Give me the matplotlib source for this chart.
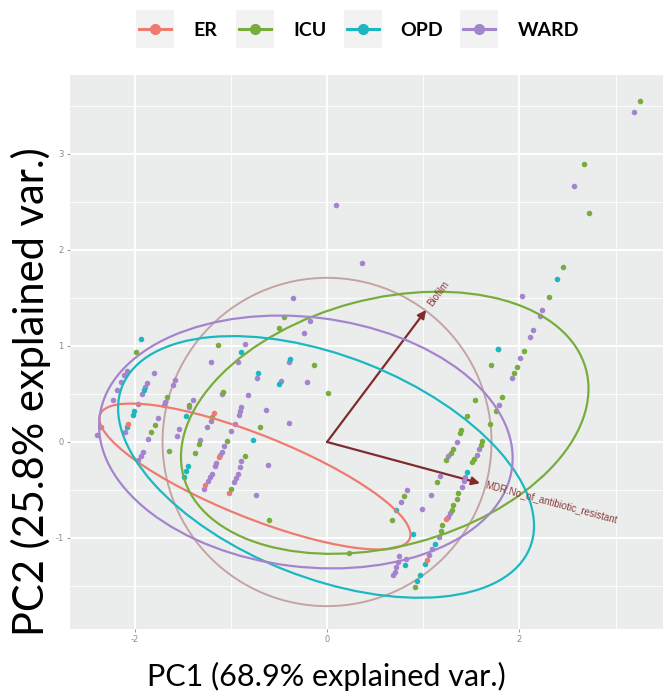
import numpy as np
import matplotlib.pyplot as plt
from matplotlib.patches import Ellipse, Rectangle
from matplotlib.lines import Line2D

# groups and colours
groups = ["ER", "ICU", "OPD", "WARD"]
colors = {"ER": "#EE7B70", "ICU": "#78AD3C", "OPD": "#1BB8C1", "WARD": "#A584CE"}

# PC scores
er_x = [-2.07, -1.18, -1.12, -1.27, -1.02, 1.24, 1.04]
er_y = [0.19, 0.30, -0.16, -0.45, -0.53, -0.80, -1.23]

icu_x = [-1.99, -1.83, -1.79, -1.66, -1.43, -1.64, -1.33, -1.37, -1.13, -1.08, -1.20, -1.04,
         -0.85, -1.00, -0.70, -0.60, -0.14, 0.01, -0.45, -0.50, 0.23,
         2.45, 2.31, 2.05, 1.97, 1.94, 1.70, 1.54, 1.82, 1.76, 1.46, 1.69, 1.39, 1.38, 1.31,
         1.29, 1.24, 1.61, 1.60, 1.53, 1.51, 1.36, 1.35, 1.31, 1.30, 1.20, 1.14, 0.80, 0.68,
         1.18, 0.91, 3.25, 2.67, 2.72]
icu_y = [0.94, 0.10, 0.18, 0.47, 0.39, -0.09, -0.02, -0.11, 1.01, 0.52, 0.26, 0.01,
         -0.15, -0.49, 0.16, -0.81, 0.80, 0.51, 1.30, 1.19, -1.16,
         1.82, 1.51, 0.95, 0.78, 0.72, 0.80, 0.44, 0.47, 0.32, 0.27, 0.19, 0.125, 0.09, -0.07,
         -0.11, -0.19, 0.01, -0.03, -0.18, -0.21, -0.53, -0.59, -0.66, -0.71, -0.87, -0.42, -0.56, -0.81,
         -0.93, -1.51, 3.55, 2.90, 2.39]

opd_x = [-1.93, -1.90, -2.01, -2.02, -2.08, -1.47, -1.45, -1.47, -1.49, -0.89, -0.77, -0.72,
         -0.38, -0.50, 2.39, 1.78, 1.46, 0.72, 0.89, 0.81, 1.12, 1.02, 0.97, 0.94]
opd_y = [1.07, 0.54, 0.32, 0.28, 0.16, 0.27, -0.25, -0.30, -0.36, 0.94, 0.02, 0.72,
         0.86, 0.60, 1.70, 0.97, -0.31, -0.71, -0.96, -1.28, -1.06, -1.27, -1.39, -1.45]

ward_x = [-2.08, -2.11, -2.14, -2.18, -2.22, -2.35, -2.39, -1.80, -1.87, -1.89, -1.92, -1.96,
          -2.10, -1.76, -1.86, -1.91, -1.93, -1.96, -1.58, -1.60, -1.68, -1.69, -1.39, -1.43,
          -1.54, -1.56, -1.32, -0.85, -0.93, -1.21, -1.09, -0.82, -1.21, -1.25, -0.89, -0.90,
          -0.92, -0.96, -1.00, -1.07, -1.09, -1.11, -1.15, -1.16, -1.20, -1.22, -1.24, -1.28,
          -0.89, -0.90, -0.93, -0.95, -0.97, -0.63, -0.61, -0.74, -0.73, -0.40, -0.48, -0.21,
          -0.40, -0.24, -0.18, -0.35, 0.09, 0.36,
          3.19, 2.57, 2.03, 2.24, 2.21, 2.14, 2.11, 1.78, 2.01, 1.92, 1.79, 1.35, 1.26, 1.58,
          1.56, 1.43, 1.42, 1.40, 1.28, 1.26, 1.17, 0.83, 0.77, 1.08, 0.99, 0.82, 0.75, 0.74,
          0.72, 0.71, 0.69, 1.16, 1.09, 1.06]
ward_y = [0.74, 0.70, 0.63, 0.54, 0.44, 0.16, 0.07, 0.72, 0.61, 0.57, 0.50, 0.40,
          0.10, 0.25, 0.03, -0.10, -0.15, -0.19, 0.65, 0.59, 0.42, 0.39, 0.44, 0.36,
          0.13, 0.06, 0.02, 1.02, 0.83, 0.83, 0.50, 0.49, 0.22, 0.16, 0.36, 0.32,
          0.28, 0.19, 0.11, -0.04, -0.10, -0.14, -0.22, -0.25, -0.33, -0.37, -0.41, -0.49,
          -0.20, -0.26, -0.33, -0.38, -0.42, 0.33, -0.24, -0.55, 0.67, 0.83, 0.64, 0.63,
          0.20, 1.14, 1.26, 1.50, 2.47, 1.86,
          3.44, 2.67, 1.52, 1.37, 1.31, 1.17, 1.09, 0.97, 0.88, 0.67, 0.39, 0.00, -0.15, -0.07,
          -0.14, -0.36, -0.41, -0.47, -0.74, -0.78, -0.35, -0.50, -0.63, -0.55, -0.70, -1.22, -1.19, -1.25,
          -1.30, -1.35, -1.39, -0.99, -1.11, -1.18]

scores = {"ER": (er_x, er_y), "ICU": (icu_x, icu_y), "OPD": (opd_x, opd_y), "WARD": (ward_x, ward_y)}

# 68% normal ellipses: centre x, centre y, full width, full height, angle (deg)
ell_cx = {"ER": -0.75, "ICU": 0.60, "OPD": -0.01, "WARD": -0.22}
ell_cy = {"ER": -0.36, "ICU": 0.20, "OPD": -0.26, "WARD": 0.00}
ell_w = {"ER": 3.47, "ICU": 4.33, "OPD": 4.56, "WARD": 4.32}
ell_h = {"ER": 0.86, "ICU": 2.58, "OPD": 2.31, "WARD": 2.60}
ell_ang = {"ER": -21.9, "ICU": 14.9, "OPD": -21.6, "WARD": -7.0}

# variable loadings
var_names = ["Biofilm", "MDR.No_of_antibiotic_resistant"]
var_x = [1.03, 1.59]
var_y = [1.375, -0.43]
circle_r = 1.71

x_ticks = [-2, 0, 2]
y_ticks = [-1, 0, 1, 2, 3]

fig = plt.figure(figsize=(6.63, 6.97), dpi=100)
ax = fig.add_axes([0.1056, 0.0976, 0.8944, 0.7948])
ax.set_facecolor("#EBEDED")

ax.set_xticks(x_ticks, [str(t) for t in x_ticks])
ax.set_xticks([-1, 1, 3], minor=True)
ax.set_yticks(y_ticks, [str(t) for t in y_ticks])
ax.set_yticks([-1.5, -0.5, 0.5, 1.5, 2.5, 3.5], minor=True)
ax.grid(which="major", color="white", lw=1.3)
ax.grid(which="minor", color="white", lw=0.6)
ax.set_axisbelow(True)
for s in ax.spines.values():
    s.set_visible(False)
ax.tick_params(which="major", length=2.5, width=0.8, color="#9a9a9a",
               labelsize=6, labelcolor="#8a8a8a", pad=2)
ax.tick_params(which="minor", length=0)

# correlation circle and loading arrows
ax.add_patch(Ellipse((0, 0), 2 * circle_r, 2 * circle_r, fill=False,
                     ec="#C4A4A3", lw=1.4, zorder=2))
for name, vx, vy in zip(var_names, var_x, var_y):
    ax.annotate("", xy=(vx, vy), xytext=(0, 0),
                arrowprops=dict(arrowstyle="-|>", color="#7E2C2C", lw=1.6,
                                mutation_scale=12, shrinkA=0, shrinkB=0), zorder=3)

# points
for g in ["WARD", "ICU", "OPD", "ER"]:
    ax.scatter(scores[g][0], scores[g][1], s=16, color=colors[g], lw=0, zorder=4)

# ellipses
for g in groups:
    ax.add_patch(Ellipse((ell_cx[g], ell_cy[g]), ell_w[g], ell_h[g], angle=ell_ang[g],
                         fill=False, ec=colors[g], lw=1.6, zorder=5))

# variable names
for name, vx, vy in zip(var_names, var_x, var_y):
    ang = np.degrees(np.arctan2(vy, vx))
    d = np.array([np.cos(np.radians(ang)), np.sin(np.radians(ang))])
    ax.annotate(name, xy=(vx, vy), xytext=(4 * d[0], 4 * d[1]), textcoords="offset points",
                rotation=ang, rotation_mode="anchor", ha="left", va="center",
                fontsize=7, color="#8B3A3A", family="Liberation Sans", zorder=6)

# limits last so the tick setters cannot widen them
ax.set_xlim(-2.672, 3.493)
ax.set_ylim(-1.948, 3.823)

# axis titles
fig.text(326.5 / 663, 1 - 676 / 697, "PC1 (68.9% explained var.)", ha="center", va="center",
         fontsize=22, family="Lato")
fig.text(31 / 663, 1 - 392 / 697, "PC2 (25.8% explained var.)", ha="center", va="center",
         rotation=90, fontsize=30, family="Lato")

# legend across the top
key_left = [136, 236, 344, 460]
lab_left = [193, 293, 400, 518]
for g, kl, ll in zip(groups, key_left, lab_left):
    x0 = kl / 663
    fig.patches.append(Rectangle((x0, 1 - 48 / 697), 38 / 663, 38 / 697,
                                 transform=fig.transFigure, fc="#F2F2F2", ec="none"))
    fig.lines.append(Line2D([x0 + 3 / 663, x0 + 35 / 663], [1 - 29 / 697] * 2,
                            transform=fig.transFigure, color=colors[g], lw=2.2))
    fig.lines.append(Line2D([x0 + 19 / 663], [1 - 29 / 697], transform=fig.transFigure,
                            color=colors[g], marker="o", markersize=7, lw=0))
    fig.text(ll / 663, 1 - 30 / 697, g, ha="left", va="center", fontsize=14,
             fontweight="bold", family="Lato")

fig.savefig("out.png", dpi=100)
